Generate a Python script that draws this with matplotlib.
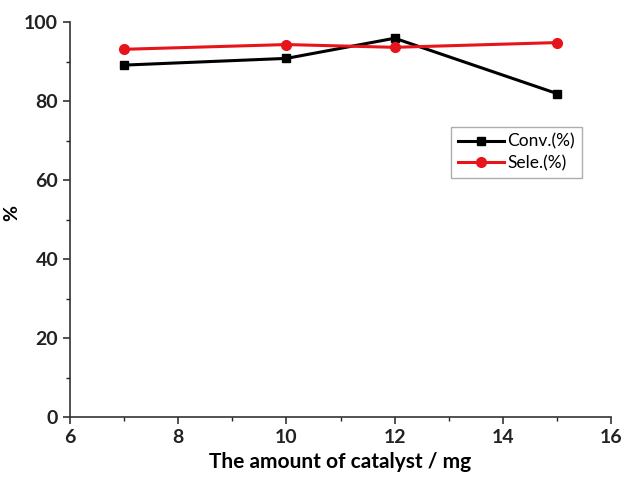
import matplotlib
matplotlib.use('Agg')
import matplotlib.pyplot as plt
from matplotlib.ticker import MultipleLocator

plt.rcParams['font.family'] = ['Lato', 'DejaVu Sans']

# catalyst amount (mg)
catalyst = [7, 10, 12, 15]
conv = [89.1, 90.8, 95.9, 81.9]
sele = [93.1, 94.3, 93.6, 94.8]

fig = plt.figure(figsize=(6.22, 4.79), dpi=100)
ax = fig.add_axes([0.1125, 0.129, 0.87, 0.825])

ax.plot(catalyst, conv, color='black', marker='s', markersize=6, linewidth=2.2, label='Conv.(%)')
ax.plot(catalyst, sele, color='#e8141b', marker='o', markersize=7, linewidth=2.2, label='Sele.(%)')

ax.set_xlim(6, 16)
ax.set_ylim(0, 100)
ax.xaxis.set_major_locator(MultipleLocator(2))
ax.xaxis.set_minor_locator(MultipleLocator(1))
ax.yaxis.set_major_locator(MultipleLocator(20))
ax.yaxis.set_minor_locator(MultipleLocator(10))

for s in ['top', 'right']:
    ax.spines[s].set_visible(False)
for s in ['left', 'bottom']:
    ax.spines[s].set_linewidth(1.2)
    ax.spines[s].set_color('#333333')

ax.tick_params(which='major', direction='out', length=5, width=1.1, labelsize=14, colors='#222222')
ax.tick_params(which='minor', direction='out', length=3, width=1.0, colors='#222222')
for lab in ax.get_xticklabels() + ax.get_yticklabels():
    lab.set_fontweight('bold')

ax.set_xlabel('The amount of catalyst / mg', fontsize=15, fontweight='bold', labelpad=4)
ax.set_ylabel('%', fontsize=14, fontweight='bold')
ax.yaxis.set_label_coords(-0.092, 0.516)

leg = ax.legend(loc='upper left', bbox_to_anchor=(0.705, 0.735), fontsize=12.5,
                frameon=True, fancybox=False, handlelength=2.6, borderpad=0.4,
                handletextpad=0.2, labelspacing=0.3, borderaxespad=0)
leg.get_frame().set_edgecolor('#999999')
leg.get_frame().set_linewidth(1.0)

fig.savefig('out.png', dpi=100)
